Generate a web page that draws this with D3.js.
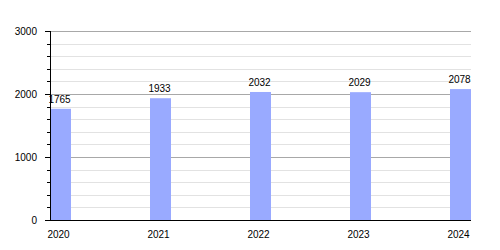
<!DOCTYPE html>
<html>
<head>
<meta charset="utf-8">
<script src="https://cdn.jsdelivr.net/npm/d3@7"></script>
<style>
  body { margin: 0; background: #fff; }
  svg { display: block; font-family: "Liberation Sans", Arial, sans-serif; }
</style>
</head>
<body>
<svg></svg>
<script>
var years = ["2020", "2021", "2022", "2023", "2024"];
var values = [1765, 1933, 2032, 2029, 2078];
var majorTicks = [0, 1000, 2000, 3000];
var minorTicks = d3.range(200, 3000, 200).filter(function (d) { return d % 1000 != 0; });

var width = 500, height = 250;
var plotLeft = 50, plotBottom = 220, plotTop = 31;
var barWidth = 21;

var svg = d3.select("svg")
  .attr("width", width)
  .attr("height", height);

var x = d3.scaleBand()
  .domain(years)
  .range([plotLeft, plotLeft + 500])
  .padding(0)
  .align(0);

var y = d3.scaleLinear()
  .domain([0, 3000])
  .range([plotBottom, plotTop]);

var plotRight = x("2024") + barWidth;

// grid
svg.append("g")
  .selectAll("line")
  .data(minorTicks)
  .enter().append("line")
  .attr("x1", plotLeft)
  .attr("x2", plotRight)
  .attr("y1", function (d) { return Math.round(y(d)) + 0.5; })
  .attr("y2", function (d) { return Math.round(y(d)) + 0.5; })
  .attr("stroke", "#e2e2e2");

svg.append("g")
  .selectAll("line")
  .data(majorTicks.slice(1))
  .enter().append("line")
  .attr("x1", plotLeft)
  .attr("x2", plotRight)
  .attr("y1", function (d) { return Math.round(y(d)) + 0.5; })
  .attr("y2", function (d) { return Math.round(y(d)) + 0.5; })
  .attr("stroke", "#a8a8a8");

// bars
svg.append("g")
  .selectAll("rect")
  .data(values)
  .enter().append("rect")
  .attr("x", function (d, i) { return x(years[i]); })
  .attr("y", function (d) { return y(d); })
  .attr("width", barWidth)
  .attr("height", function (d) { return plotBottom - y(d); })
  .attr("fill", "#99aaff");

// value labels
svg.append("g")
  .selectAll("text")
  .data(values)
  .enter().append("text")
  .attr("x", function (d, i) { return x(years[i]) + barWidth / 2 - 1; })
  .attr("y", function (d) { return y(d) - 6; })
  .attr("text-anchor", "middle")
  .attr("font-size", 10)
  .attr("fill", "#000")
  .text(function (d) { return d; });

// y axis
var yAxis = svg.append("g");
yAxis.append("line")
  .attr("x1", plotLeft + 0.5).attr("x2", plotLeft + 0.5)
  .attr("y1", plotTop).attr("y2", plotBottom)
  .attr("stroke", "#000");
yAxis.selectAll(".major")
  .data(majorTicks)
  .enter().append("line")
  .attr("class", "major")
  .attr("x1", plotLeft - 5).attr("x2", plotLeft)
  .attr("y1", function (d) { return Math.round(y(d)) + 0.5; })
  .attr("y2", function (d) { return Math.round(y(d)) + 0.5; })
  .attr("stroke", "#000");
yAxis.selectAll(".minor")
  .data(minorTicks)
  .enter().append("line")
  .attr("class", "minor")
  .attr("x1", plotLeft - 3).attr("x2", plotLeft)
  .attr("y1", function (d) { return Math.round(y(d)) + 0.5; })
  .attr("y2", function (d) { return Math.round(y(d)) + 0.5; })
  .attr("stroke", "#000");
yAxis.selectAll("text")
  .data(majorTicks)
  .enter().append("text")
  .attr("x", 37)
  .attr("y", function (d) { return y(d) + 3.5; })
  .attr("text-anchor", "end")
  .attr("font-size", 10)
  .text(function (d) { return d; });

// x axis
svg.append("line")
  .attr("x1", plotLeft).attr("x2", plotRight)
  .attr("y1", plotBottom + 0.5).attr("y2", plotBottom + 0.5)
  .attr("stroke", "#000");
svg.append("g")
  .selectAll("text")
  .data(years)
  .enter().append("text")
  .attr("x", function (d) { return x(d) + barWidth / 2 - 2; })
  .attr("y", 238)
  .attr("text-anchor", "middle")
  .attr("font-size", 10)
  .text(function (d) { return d; });
</script>
</body>
</html>
